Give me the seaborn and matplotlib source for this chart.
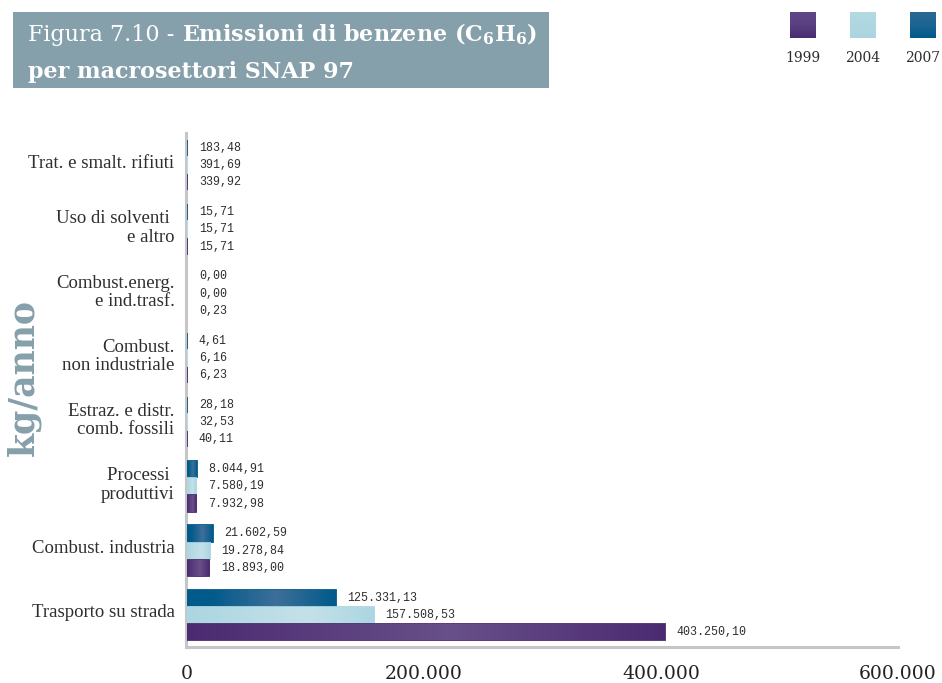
import numpy as np
import pandas as pd
import matplotlib
matplotlib.use("Agg")
import matplotlib.pyplot as plt
import matplotlib.transforms as mtransforms
import seaborn as sns
from matplotlib.colors import LinearSegmentedColormap
from matplotlib.patches import Rectangle

# ---------------- data ----------------
categories = [
    "Trat. e smalt. rifiuti",
    "Uso di solventi \ne altro",
    "Combust.energ.\ne ind.trasf.",
    "Combust.\nnon industriale",
    "Estraz. e distr.\ncomb. fossili",
    "Processi \nproduttivi",
    "Combust. industria",
    "Trasporto su strada",
]
years = ["1999", "2004", "2007"]
values_1999 = [339.92, 15.71, 0.23, 6.23, 40.11, 7932.98, 18893.00, 403250.10]
values_2004 = [391.69, 15.71, 0.00, 6.16, 32.53, 7580.19, 19278.84, 157508.53]
values_2007 = [183.48, 15.71, 0.00, 4.61, 28.18, 8044.91, 21602.59, 125331.13]
x_ticks = [0, 200000, 400000]
x_tick_labels = ["0", "200.000", "400.000"]
x_end = 600000
x_end_label = "600.000"

df = pd.DataFrame({
    "categoria": categories * 3,
    "anno": ["1999"] * 8 + ["2004"] * 8 + ["2007"] * 8,
    "valore": values_1999 + values_2004 + values_2007,
})

def it_fmt(v):
    s = f"{v:,.2f}"
    return s.replace(",", "X").replace(".", ",").replace("X", ".")

# ---------------- style ----------------
base_colors = {"1999": "#4b2a71", "2004": "#acd6e1", "2007": "#005a8a"}
grad = {
    "1999": LinearSegmentedColormap.from_list("p", [(0, "#4b2a71"), (0.55, "#685089"), (1, "#4b2a71")]),
    "2004": LinearSegmentedColormap.from_list("l", [(0, "#acd6e1"), (0.65, "#c4e1e9"), (1, "#acd6e1")]),
    "2007": LinearSegmentedColormap.from_list("d", [(0, "#005a8a"), (0.15, "#005a8a"), (0.6, "#3d6f99"), (1, "#005a8a")]),
}
box_color = "#86a0ab"
spine_color = "#c6c6c6"
text_color = "#2e2e2e"

sns.set_theme(style="white")
plt.rcParams["font.family"] = ["DejaVu Serif"]
plt.rcParams["mathtext.fontset"] = "dejavuserif"

W, H = 942, 683
fig = plt.figure(figsize=(W / 100, H / 100), dpi=100)
fig.patch.set_facecolor("white")
ax = fig.add_axes([187 / W, 1 - 647 / H, (898 - 187) / W, (647 - 133) / H])

hue_order = ["2007", "2004", "1999"]
sns.barplot(data=df, y="categoria", x="valore", hue="anno", hue_order=hue_order,
            order=categories, palette=base_colors, orient="h", width=0.8, gap=0.06,
            saturation=1, legend=False, ax=ax, errorbar=None)

ax.set_xlim(0, x_end)
ax.set_ylim(len(categories) - 0.5, -0.5)

# gradient fill + value labels
for year, cont in zip(hue_order, ax.containers):
    for patch in cont.patches:
        x0, y0 = patch.get_x(), patch.get_y()
        w, h = patch.get_width(), patch.get_height()
        patch.set_facecolor(base_colors[year])
        patch.set_zorder(3)
        if w >= 1:
            patch.set_edgecolor(base_colors[year])
            patch.set_linewidth(1.3)
            img = ax.imshow(np.linspace(0, 1, 256).reshape(1, -1), cmap=grad[year],
                            extent=[x0, x0 + w, y0 + h, y0], aspect="auto",
                            zorder=3.1, interpolation="bilinear")
            img.set_clip_path(patch)
        else:
            patch.set_linewidth(0)
    vals = {"1999": values_1999, "2004": values_2004, "2007": values_2007}[year]
    ax.bar_label(cont, labels=[it_fmt(v) for v in vals], padding=8.5,
                 fontsize=8.4, family="Liberation Mono", color=text_color)

ax.set_xlim(0, x_end)
ax.set_ylim(len(categories) - 0.5, -0.5)

# axes styling
for s in ["top", "right"]:
    ax.spines[s].set_visible(False)
for s in ["left", "bottom"]:
    ax.spines[s].set_color(spine_color)
    ax.spines[s].set_linewidth(2.2)
    ax.spines[s].set_zorder(1)
ax.spines["left"].set_position(("outward", 1))
ax.set_xlabel("")
ax.set_ylabel("")

ax.set_xticks(x_ticks, labels=x_tick_labels)
ax.set_xticks([x_end], labels=[x_end_label], minor=True)
ax.tick_params(axis="x", which="major", direction="inout", length=6.5, width=2,
               color=spine_color, pad=10, labelsize=13.5, labelcolor="#222222")
ax.tick_params(axis="x", which="minor", direction="in", length=11, width=2,
               color=spine_color, pad=13.3, labelsize=13.5, labelcolor="#222222")
ax.tick_params(axis="y", length=0, pad=8)
shift_up = mtransforms.ScaledTranslation(0, 4 / 100, fig.dpi_scale_trans)
for lab in ax.get_yticklabels():
    lab.set_family("Liberation Serif")
    lab.set_fontsize(13.5)
    lab.set_color(text_color)
    lab.set_linespacing(1.1)
    lab.set_transform(lab.get_transform() + shift_up)

# y label
fig.text(24 / W, 1 - 378 / H, "kg/anno", rotation=90, fontsize=25, fontweight="bold",
         color=box_color, ha="center", va="center", family="DejaVu Serif")

# title box
fig.patches.append(Rectangle((13 / W, 1 - 88 / H), (549 - 13) / W, 76 / H,
                             transform=fig.transFigure, facecolor=box_color,
                             edgecolor="none", zorder=0))
renderer = fig.canvas.get_renderer()
t1 = fig.text(28 / W, 1 - 41 / H, "Figura 7.10 - ", fontsize=16, color="white",
              va="baseline", ha="left")
bb = t1.get_window_extent(renderer=renderer)
fig.text(bb.x1 / W, 1 - 41 / H, r"Emissioni di benzene (C$_\mathbf{6}$H$_\mathbf{6}$)",
         fontsize=16, fontweight="bold", color="white", va="baseline", ha="left")
fig.text(28 / W, 1 - 78 / H, "per macrosettori SNAP 97", fontsize=16, fontweight="bold",
         color="white", va="baseline", ha="left")

# legend (gradient squares)
leg_grad = {
    "1999": ["#5f4686", "#5b4182", "#4a2c70"],
    "2004": ["#b4dae3", "#aed7e1", "#aad5e0"],
    "2007": ["#2a6a95", "#1d6592", "#005a8a"],
}
leg_x = {"1999": 790, "2004": 850, "2007": 910}
for yr in years:
    lax = fig.add_axes([leg_x[yr] / W, 1 - 38 / H, 26 / W, 26 / H])
    cm = LinearSegmentedColormap.from_list("g" + yr, leg_grad[yr])
    lax.imshow(np.linspace(0, 1, 64).reshape(-1, 1), cmap=cm, aspect="auto",
               interpolation="bilinear")
    lax.set_axis_off()
    fig.text((leg_x[yr] + 13) / W, 1 - 58 / H, yr, fontsize=10, color=text_color,
             ha="center", va="center")

fig.savefig("out.png", dpi=100)
